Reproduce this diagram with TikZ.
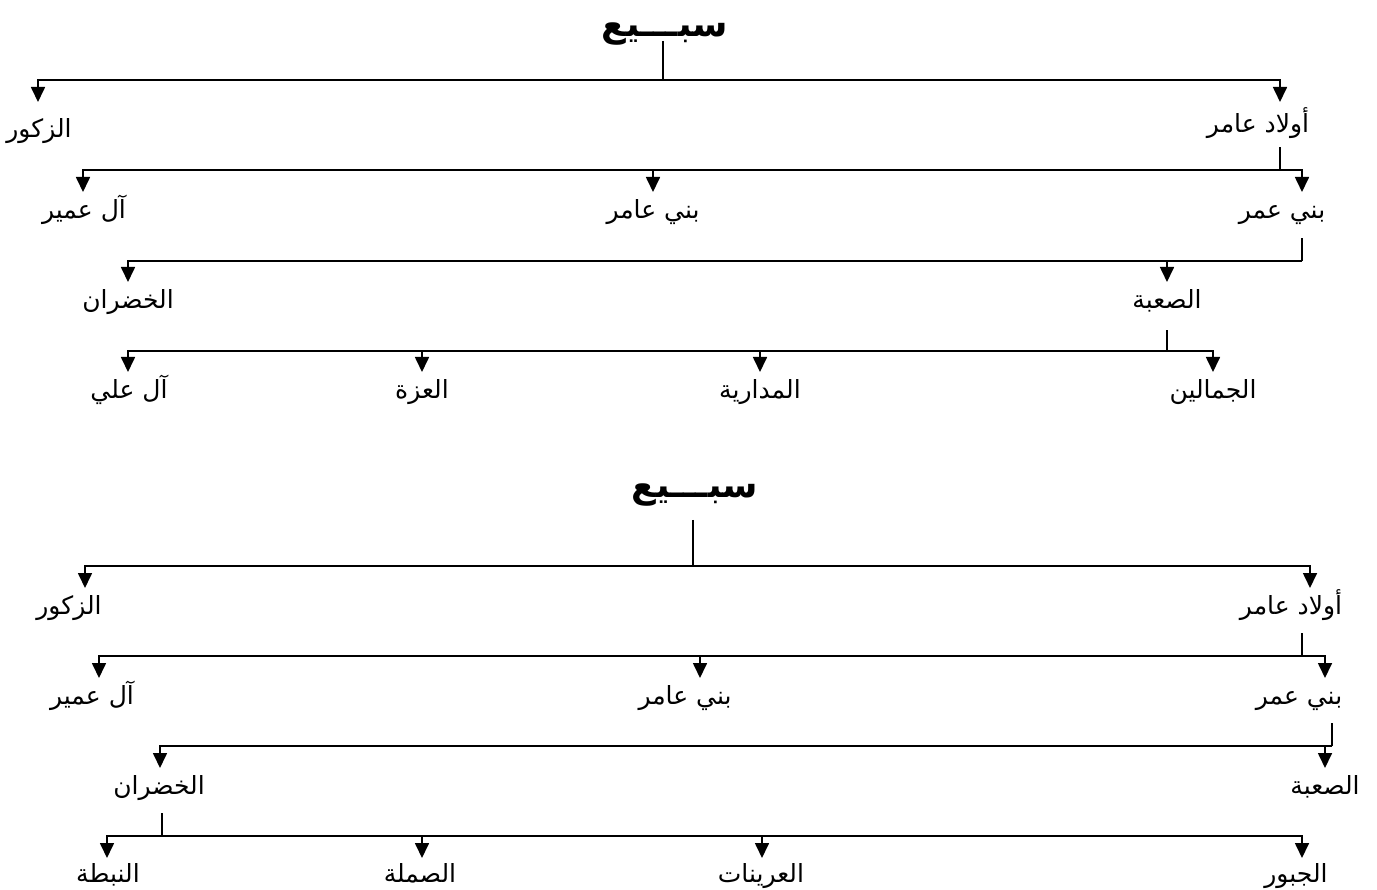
\documentclass[tikz,border=0pt]{standalone}
\usepackage{fontspec}
\usetikzlibrary{arrows.meta}
\newfontfamily\arabicfont[Script=Arabic]{DejaVu Sans}
\TeXXeTstate=1
\tikzset{
  conn/.style={line width=1.7pt},
  arr/.style={conn, -{Triangle[length=15pt,width=14pt]}},
  lbl/.style={anchor=north, inner sep=0pt, text height=26pt, text depth=20pt,
    font=\arabicfont\fontsize{25}{25}\selectfont},
  ttl/.style={anchor=base, inner sep=0pt, font=\arabicfont\bfseries\fontsize{36}{36}\selectfont}
}
\begin{document}
\begin{tikzpicture}[x=1pt,y=-1pt]
\useasboundingbox (0,0) rectangle (1377,890);
% ---------------- Diagram 1
\node[ttl] (t1) at (665,37) {\beginR سبـــيع\endR};
\coordinate (j1) at (663,80);
\coordinate (j2) at (1280,170);
\coordinate (j3) at (1302,261);
\coordinate (j4) at (1167,351);
\node[lbl, text height=35pt] (zk1) at (39,102) {\beginR الزكور\endR};
\node[lbl, text height=30pt, text depth=15pt] (aw1) at (1258,102) {\beginR أولاد عامر\endR};
\node[lbl] (ao1) at (84,192) {\beginR آل عمير\endR};
\node[lbl] (bn1) at (653,192) {\beginR بني عامر\endR};
\node[lbl] (bo1) at (1282,192) {\beginR بني عمر\endR};
\node[lbl] (kh1) at (128,282) {\beginR الخضران\endR};
\node[lbl, text depth=22pt] (sa1) at (1167,282) {\beginR الصعبة\endR};
\node[lbl] (al1) at (129,372) {\beginR آل علي\endR};
\node[lbl] (iz1) at (422,372) {\beginR العزة\endR};
\node[lbl] (md1) at (760,372) {\beginR المدارية\endR};
\node[lbl] (jm1) at (1213,372) {\beginR الجمالين\endR};
\draw[conn] (t1.base -| j1) ++(0,4) -- (j1);
\draw[arr] (j1) -| ([xshift=-1pt]zk1.north);
\draw[arr] (j1) -| ([xshift=22pt]aw1.north);
\draw[conn] (j2 |- aw1.south) -- (j2);
\draw[arr] (j2) -| ([xshift=-1pt]ao1.north);
\draw[arr] (bn1.north |- j2) -- (bn1.north);
\draw[arr] (j2) -| ([xshift=20pt]bo1.north);
\draw[conn] (j3 |- bo1.south) -- (j3);
\draw[arr] (j3) -| (kh1.north);
\draw[arr] (j3) -| (sa1.north);
\draw[conn] (j4 |- sa1.south) -- (j4);
\draw[arr] (j4) -| ([xshift=-1pt]al1.north);
\draw[arr] (j4) -| (iz1.north);
\draw[arr] (j4) -| (md1.north);
\draw[arr] (j4) -| (jm1.north);
% ---------------- Diagram 2
\node[ttl] (t2) at (695,498) {\beginR سبـــيع\endR};
\coordinate (j5) at (693,566);
\coordinate (j6) at (1302,656);
\coordinate (j7) at (1332,746);
\coordinate (j8) at (162,836);
\node[lbl, text depth=19pt] (zk2) at (69,588) {\beginR الزكور\endR};
\node[lbl, text depth=19pt] (aw2) at (1291,588) {\beginR أولاد عامر\endR};
\node[lbl, text depth=19pt] (ao2) at (92,678) {\beginR آل عمير\endR};
\node[lbl, text depth=19pt] (bn2) at (685,678) {\beginR بني عامر\endR};
\node[lbl, text depth=19pt] (bo2) at (1299,678) {\beginR بني عمر\endR};
\node[lbl, text depth=19pt] (kh2) at (159,768) {\beginR الخضران\endR};
\node[lbl, text depth=19pt] (sa2) at (1325,768) {\beginR الصعبة\endR};
\node[lbl, text height=24pt, text depth=19pt] (nb2) at (108,858) {\beginR النبطة\endR};
\node[lbl, text height=24pt, text depth=19pt] (sm2) at (420,858) {\beginR الصملة\endR};
\node[lbl, text height=24pt, text depth=19pt] (ar2) at (761,858) {\beginR العرينات\endR};
\node[lbl, text height=24pt, text depth=19pt] (jb2) at (1296,858) {\beginR الجبور\endR};
\draw[conn] (t2.base -| j5) ++(0,22) -- (j5);
\draw[arr] (j5) -| ([xshift=16pt]zk2.north);
\draw[arr] (j5) -| ([xshift=19pt]aw2.north);
\draw[conn] (j6 |- aw2.south) -- (j6);
\draw[arr] (j6) -| ([xshift=7pt]ao2.north);
\draw[arr] ([xshift=15pt]bn2.north |- j6) -- ([xshift=15pt]bn2.north);
\draw[arr] (j6) -| ([xshift=26pt]bo2.north);
\draw[conn] (j7 |- bo2.south) -- (j7);
\draw[arr] (j7) -| ([xshift=1pt]kh2.north);
\draw[arr] (j7) -| (sa2.north);
\draw[conn] (j8 |- kh2.south) -- (j8);
\draw[arr] (j8) -| ([xshift=-1pt]nb2.north);
\draw[arr] (j8) -| ([xshift=2pt]sm2.north);
\draw[arr] (j8) -| ([xshift=1pt]ar2.north);
\draw[arr] (j8) -| ([xshift=6pt]jb2.north);
\end{tikzpicture}
\end{document}
